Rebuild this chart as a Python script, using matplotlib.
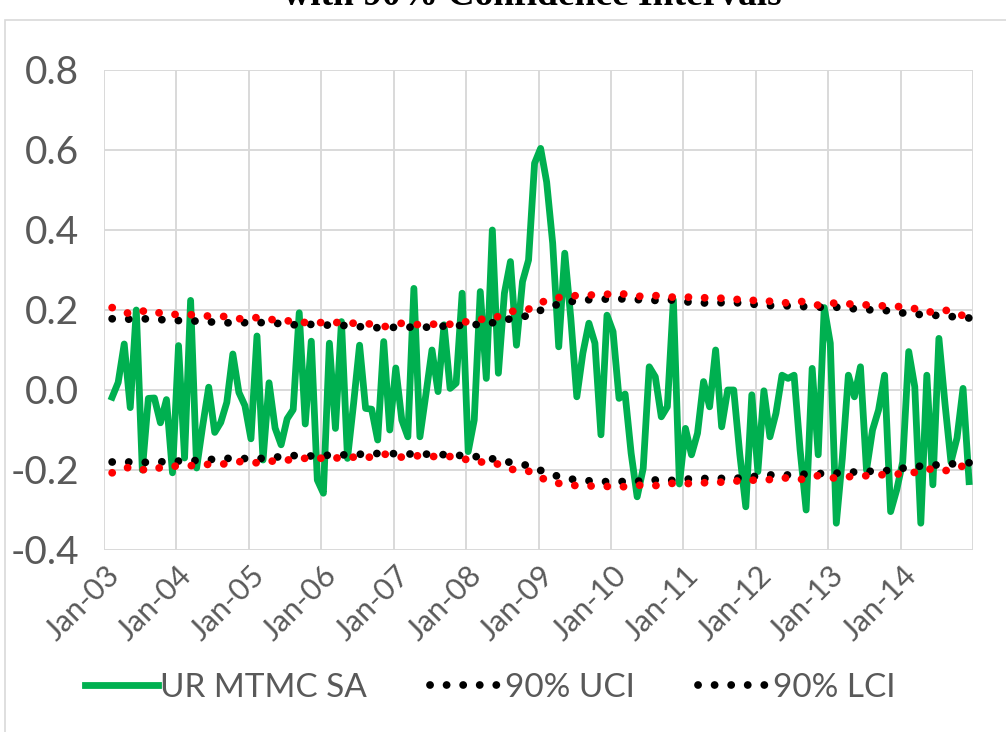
import numpy as np
import matplotlib
matplotlib.use("Agg")
import matplotlib.pyplot as plt
import matplotlib.transforms as mtransforms
from matplotlib.patches import Rectangle
from matplotlib.ticker import FixedLocator, FormatStrFormatter

# monthly series, Feb-03 .. Dec-14
ur_mtmc_sa = [
    -0.018, 0.019, 0.115, -0.044, 0.200, -0.200, -0.021, -0.020, -0.082, -0.024,
    -0.207, 0.111, -0.170, 0.224, -0.195, -0.090, 0.007, -0.106, -0.081, -0.031,
    0.090, -0.006, -0.039, -0.122, 0.135, -0.175, 0.018, -0.095, -0.137, -0.072,
    -0.049, 0.193, -0.085, 0.122, -0.225, -0.258, 0.117, -0.096, 0.171, -0.171,
    -0.035, 0.112, -0.046, -0.048, -0.125, 0.121, -0.100, 0.055, -0.075, -0.117,
    0.254, -0.117, -0.010, 0.100, -0.004, 0.163, 0.004, 0.017, 0.242, -0.154,
    -0.075, 0.246, 0.029, 0.400, 0.042, 0.242, 0.321, 0.112, 0.271, 0.325,
    0.567, 0.604, 0.520, 0.367, 0.108, 0.342, 0.180, -0.017, 0.092, 0.167,
    0.117, -0.112, 0.187, 0.146, -0.021, -0.010, -0.158, -0.267, -0.196, 0.058,
    0.033, -0.067, -0.042, 0.225, -0.235, -0.096, -0.162, -0.108, 0.021, -0.042,
    0.100, -0.092, 0.000, 0.000, -0.160, -0.292, -0.012, -0.204, -0.002, -0.117,
    -0.058, 0.037, 0.029, 0.037, -0.150, -0.300, 0.054, -0.162, 0.206, 0.117,
    -0.333, -0.170, 0.037, -0.017, 0.058, -0.200, -0.100, -0.050, 0.037, -0.304,
    -0.250, -0.180, 0.096, 0.008, -0.333, 0.037, -0.237, 0.129, -0.033, -0.180,
    -0.120, 0.004, -0.229,
]

# confidence bands, read every third month (plus the last one)
ci_months = list(range(0, 143, 3)) + [142]
uci_black = [
    0.178, 0.177, 0.178, 0.175, 0.173, 0.172, 0.168, 0.168, 0.169, 0.167,
    0.163, 0.164, 0.162, 0.161, 0.157, 0.155, 0.158, 0.156, 0.159, 0.161,
    0.163, 0.168, 0.178, 0.186, 0.206, 0.219, 0.225, 0.227, 0.228, 0.226,
    0.224, 0.225, 0.219, 0.217, 0.219, 0.217, 0.211, 0.211, 0.209, 0.207,
    0.207, 0.203, 0.200, 0.198, 0.190, 0.188, 0.185, 0.181, 0.180,
]
lci_black = [
    -0.180, -0.180, -0.181, -0.179, -0.177, -0.176, -0.171, -0.171, -0.172, -0.168,
    -0.164, -0.165, -0.163, -0.162, -0.160, -0.158, -0.160, -0.160, -0.161, -0.163,
    -0.166, -0.172, -0.181, -0.189, -0.207, -0.221, -0.226, -0.229, -0.229, -0.228,
    -0.225, -0.226, -0.222, -0.221, -0.221, -0.220, -0.212, -0.213, -0.211, -0.209,
    -0.208, -0.205, -0.203, -0.201, -0.193, -0.189, -0.186, -0.183, -0.182,
]
uci_red = [
    0.206, 0.190, 0.200, 0.188, 0.190, 0.185, 0.185, 0.178, 0.181, 0.175,
    0.172, 0.167, 0.170, 0.167, 0.167, 0.158, 0.167, 0.163, 0.165, 0.164,
    0.176, 0.178, 0.196, 0.202, 0.225, 0.234, 0.237, 0.238, 0.242, 0.234,
    0.236, 0.232, 0.232, 0.230, 0.229, 0.224, 0.224, 0.217, 0.222, 0.212,
    0.218, 0.214, 0.212, 0.209, 0.208, 0.194, 0.200, 0.186, 0.170,
]
lci_red = [
    -0.207, -0.192, -0.202, -0.190, -0.191, -0.186, -0.186, -0.179, -0.182, -0.177,
    -0.174, -0.169, -0.172, -0.167, -0.170, -0.160, -0.168, -0.164, -0.167, -0.166,
    -0.180, -0.180, -0.198, -0.203, -0.226, -0.237, -0.240, -0.240, -0.243, -0.238,
    -0.239, -0.233, -0.234, -0.231, -0.230, -0.225, -0.226, -0.219, -0.224, -0.214,
    -0.221, -0.215, -0.214, -0.210, -0.210, -0.197, -0.202, -0.190, -0.173,
]

year_labels = ["Jan-03", "Jan-04", "Jan-05", "Jan-06", "Jan-07", "Jan-08",
               "Jan-09", "Jan-10", "Jan-11", "Jan-12", "Jan-13", "Jan-14"]

plt.rcParams["font.family"] = ["Lato", "DejaVu Sans"]
plt.rcParams["axes.unicode_minus"] = False

GREEN = "#00B050"
GRID = "#D9D9D9"
TXT = "#595959"
START = 1.35  # first observation sits a bit right of the Jan-03 gridline

x = np.arange(len(ur_mtmc_sa)) + START
x_ci = np.array(ci_months) + START

fig = plt.figure(figsize=(10.06, 7.32), dpi=100)
ax = fig.add_axes([104 / 1006, 1 - 550 / 732, (973 - 104) / 1006, 480 / 732])

DOT_LW = 5.6
ax.plot(x, ur_mtmc_sa, color=GREEN, lw=4.9, solid_joinstyle="round",
        label="UR MTMC SA", zorder=3)
ax.plot(x_ci, uci_black, color="black", lw=DOT_LW, ls=(0, (0.01, 2.12)),
        dash_capstyle="round", label="90% UCI", zorder=4)
ax.plot(x_ci, lci_black, color="black", lw=DOT_LW, ls=(0, (0.01, 2.12)),
        dash_capstyle="round", label="90% LCI", zorder=4)
ax.plot(x_ci, uci_red, color="#FF0000", lw=DOT_LW, ls=(0, (0.01, 2.08)),
        dash_capstyle="round", zorder=5)
ax.plot(x_ci, lci_red, color="#FF0000", lw=DOT_LW, ls=(0, (0.01, 2.08)),
        dash_capstyle="round", zorder=5)

ax.set_xlim(0, 144)
ax.set_ylim(-0.4, 0.8)
ax.xaxis.set_major_locator(FixedLocator(np.arange(0, 145, 12)))
ax.set_xticklabels(year_labels + [""])
ax.yaxis.set_major_locator(FixedLocator(np.arange(-0.4, 0.81, 0.2)))
ax.yaxis.set_major_formatter(FormatStrFormatter("%.1f"))
ax.grid(True, color=GRID, lw=1.4)
ax.set_axisbelow(True)
for s in ax.spines.values():
    s.set_visible(False)

ax.tick_params(axis="y", length=0, pad=18, labelsize=28, labelcolor=TXT)
ax.tick_params(axis="x", length=0, pad=15, labelsize=22, labelcolor=TXT)
shift = mtransforms.ScaledTranslation(11 / 100, 0, fig.dpi_scale_trans)
for lab in ax.get_xticklabels():
    lab.set_rotation(45)
    lab.set_ha("right")
    lab.set_va("center")
    lab.set_rotation_mode("anchor")
    lab.set_transform(lab.get_transform() + shift)

fig.legend(loc="center", bbox_to_anchor=(490 / 1006, 1 - 688 / 732), ncol=3,
           frameon=False, fontsize=24, labelcolor=TXT, handlelength=2.2,
           handletextpad=0.05, columnspacing=1.9)

fig.text(532 / 1006, 1 - 5 / 732, "with 90% Confidence Intervals",
         ha="center", va="baseline", family="Liberation Serif",
         weight="bold", size=27)

fig.patches.append(Rectangle((5 / 1006, -0.1), 1.2, 1.1 - 20 / 732,
                             transform=fig.transFigure, fill=False,
                             ec=GRID, lw=1.2))

fig.savefig("out.png", dpi=100)
